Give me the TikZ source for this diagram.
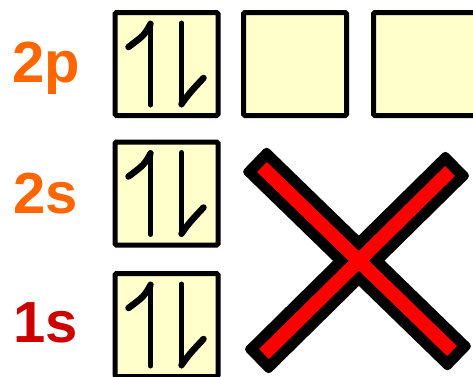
\documentclass[tikz,border=0pt]{standalone}
\usepackage{fontspec}
\setmainfont{Liberation Sans}
\usetikzlibrary{calc}
\definecolor{BoxFill}{HTML}{FFFFCC}
\definecolor{LabelOrange}{HTML}{FF6600}
\definecolor{LabelRed}{HTML}{CC0000}
\definecolor{CrossRed}{HTML}{FF0000}

% up + down half arrows inside one orbital box
\newcommand{\spinpair}[1]{%
  \draw[spin] ($(#1)+(-16,41)$) -- ($(#1)+(-16,-41)$);
  \draw[hook] ($(#1)+(-16,-40)$)
    .. controls ($(#1)+(-22,-29)$) .. ($(#1)+(-38,-17)$);
  \draw[spin] ($(#1)+(15,-41)$) -- ($(#1)+(15,41)$);
  \draw[hook] ($(#1)+(15,40)$)
    .. controls ($(#1)+(23,29)$) .. ($(#1)+(37,14)$);
}

\begin{document}
\begin{tikzpicture}[x=1pt,y=-1pt,
  orb/.style={draw=black,fill=BoxFill,line width=5pt,minimum size=103pt,
    inner sep=0pt,rounded corners=1.5pt},
  spin/.style={line width=5pt,line cap=round},
  hook/.style={line width=6.5pt,line cap=round},
  lbl/.style={font=\fontsize{58}{60}\selectfont\bfseries,anchor=base,inner sep=0pt}]
  \useasboundingbox (0,0) rectangle (473,376);
  % orbital boxes
  \node[orb] (p1) at (166.5,64) {};
  \node[orb] (p2) at (295,64) {};
  \node[orb] (p3) at (425,64) {};
  \node[orb] (s2) at (166.5,193.5) {};
  \node[orb] (s1) at (166.5,325) {};
  % electrons
  \foreach \b in {p1,s2,s1} {
    \spinpair{\b}
  }
  % level labels
  \node[lbl,text=LabelOrange] (l2p) at (46,82) {2p};
  \node[lbl,text=LabelOrange] (l2s) at (46,213) {2s};
  \node[lbl,text=LabelRed] (l1s) at (46,342) {1s};
  % cross
  \fill[rounded corners=4pt] (266.5,146.1) -- (472.5,346.1) -- (447.5,371.9)
    -- (241.5,171.9) -- cycle;
  \fill[rounded corners=4pt] (470.6,175.8) -- (268.6,374.8) -- (243.4,349.2)
    -- (445.4,150.2) -- cycle;
  \draw[line width=14pt,CrossRed] (262,167) -- (452,351) (450,171) -- (264,354);
\end{tikzpicture}
\end{document}
